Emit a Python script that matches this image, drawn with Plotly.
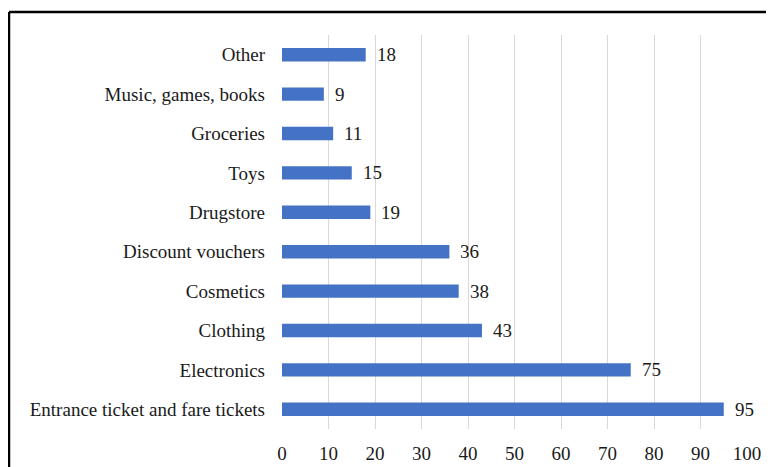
import plotly.graph_objects as go

categories = ["Entrance ticket and fare tickets", "Electronics", "Clothing", "Cosmetics",
              "Discount vouchers", "Drugstore", "Toys", "Groceries",
              "Music, games, books", "Other"]
values = [95, 75, 43, 38, 36, 19, 15, 11, 9, 18]
x_ticks = [0, 10, 20, 30, 40, 50, 60, 70, 80, 90, 100]

OFF = 8  # page body margin
W, H = 774 - OFF, 467 - OFF
L, T = 282 - OFF, 35 - OFF
R = W - (747 - OFF)
B = H - (429 - OFF)
pw, ph = W - L - R, H - T - B

FONT = "Liberation Serif"
FS = 19
TXT = "#1a1a1a"

fig = go.Figure(go.Bar(
    y=categories, x=values, orientation="h",
    marker=dict(color="#4472C4", line=dict(width=0)),
    width=0.34,
    cliponaxis=False,
))

for c, v in zip(categories, values):
    fig.add_annotation(x=v, y=c, text=str(v), showarrow=False, xanchor="left",
                       xshift=9, font=dict(family=FONT, size=FS, color=TXT))

# outer frame (left and top edges visible)
fx0 = (9 - OFF - L) / pw
fy1 = 1 + (T - (12 - OFF)) / ph
fig.add_shape(type="line", xref="paper", yref="paper", x0=fx0, x1=fx0, y0=-1, y1=fy1,
              line=dict(color="black", width=2.5))
fig.add_shape(type="line", xref="paper", yref="paper", x0=fx0, x1=2, y0=fy1, y1=fy1,
              line=dict(color="black", width=2.5))

fig.update_layout(
    width=W, height=H,
    margin=dict(l=L, r=R, t=T, b=B, autoexpand=False),
    paper_bgcolor="white", plot_bgcolor="white",
    font=dict(family=FONT, size=FS, color=TXT),
    showlegend=False,
    xaxis=dict(range=[0, 100], tickvals=x_ticks, showgrid=True, gridcolor="#d9d9d9",
               gridwidth=1, zeroline=False, showline=False, ticks="",
               ticklabelstandoff=11, automargin=False, fixedrange=True),
    yaxis=dict(categoryorder="array", categoryarray=categories, showgrid=False,
               zeroline=False, showline=False, ticks="", ticklabelstandoff=16,
               automargin=False),
)

fig.write_html("out.html")
